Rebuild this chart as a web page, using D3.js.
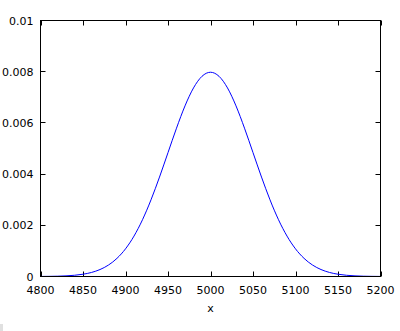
<!DOCTYPE html>
<html><head><meta charset="utf-8">
<script src="https://cdn.jsdelivr.net/npm/d3@7"></script>
<style>body{margin:0;background:#fff}svg{display:block}text{font-family:"DejaVu Sans",sans-serif;font-size:11px;fill:#000}</style>
</head><body>
<svg id="c" width="400" height="331"></svg>
<script>
const xTicks = [4800,4850,4900,4950,5000,5050,5100,5150,5200];
const yTicks = [0,0.002,0.004,0.006,0.008,0.01];
const yTickLabels = ["0","0.002","0.004","0.006","0.008","0.01"];
const xs = [4800,4810,4820,4830,4840,4850,4860,4870,4880,4890,4900,4910,4920,4930,4940,4950,4960,4970,4980,4990,5000,
            5010,5020,5030,5040,5050,5060,5070,5080,5090,5100,5110,5120,5130,5140,5150,5160,5170,5180,5190,5200];
const ys = [0.0000027,0.0000058,0.0000122,0.0000246,0.0000477,0.0000887,0.000158,0.000272,0.000448,0.000710,0.001080,
            0.001579,0.002218,0.002995,0.003884,0.004839,0.005794,0.006665,0.007366,0.007821,0.007979,
            0.007821,0.007366,0.006665,0.005794,0.004839,0.003884,0.002995,0.002218,0.001579,0.001080,
            0.000710,0.000448,0.000272,0.000158,0.0000887,0.0000477,0.0000246,0.0000122,0.0000058,0.0000027];

const L=40.5, R=380.5, T=20.5, B=276.5;
const svg = d3.select("#c");
const x = d3.scaleLinear().domain([4800,5200]).range([L,R]);
const y = d3.scaleLinear().domain([0,0.01]).range([B,T]);

svg.append("rect").attr("x",0).attr("y",324).attr("width",3).attr("height",7).attr("fill","#e0e0e0");

const g = svg.append("g");
// ticks
xTicks.forEach(v=>{
  g.append("line").attr("x1",Math.round(x(v))+0.5).attr("x2",Math.round(x(v))+0.5).attr("y1",B).attr("y2",B-5).attr("stroke","#000");
  g.append("line").attr("x1",Math.round(x(v))+0.5).attr("x2",Math.round(x(v))+0.5).attr("y1",T).attr("y2",T+5).attr("stroke","#000");
  g.append("text").attr("x",x(v)).attr("y",B+17).attr("text-anchor","middle").text(v);
});
yTicks.forEach((v,i)=>{
  const yy = Math.round(y(v)-0.5)+0.5;
  g.append("line").attr("x1",L).attr("x2",L+5).attr("y1",yy).attr("y2",yy).attr("stroke","#000");
  g.append("line").attr("x1",R).attr("x2",R-5).attr("y1",yy).attr("y2",yy).attr("stroke","#000");
  g.append("text").attr("x",L-7).attr("y",y(v)+4).attr("text-anchor","end").text(yTickLabels[i]);
});

const line = d3.line().x((d,i)=>x(xs[i])).y(d=>y(d)).curve(d3.curveMonotoneX);
svg.append("path").datum(ys).attr("d",line).attr("fill","none").attr("stroke","#0000ff").attr("stroke-width",1);

svg.append("rect").attr("x",L).attr("y",T).attr("width",R-L).attr("height",B-T).attr("fill","none").attr("stroke","#000");
svg.append("text").attr("x",(L+R)/2).attr("y",312).attr("text-anchor","middle").text("x");
</script>
</body></html>
